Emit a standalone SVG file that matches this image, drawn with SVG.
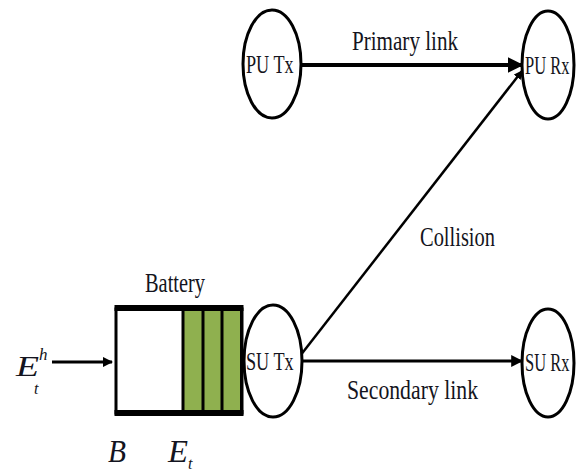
<svg xmlns="http://www.w3.org/2000/svg" width="576" height="471" viewBox="0 0 576 471">
<style>
.node{fill:#fff;stroke:#000;stroke-width:3}
.t{font-family:"Liberation Serif","Times New Roman",serif;fill:#141420}
.lbl{font-size:27px}
.nl{font-size:17px}
.m{font-style:italic}
.ln{stroke:#000;fill:none}
</style>
<defs>
<marker id="ah" viewBox="0 0 10 10" refX="9" refY="5" markerWidth="4" markerHeight="4" markerUnits="strokeWidth" orient="auto">
<path d="M0,0 L10,5 L0,10 z" fill="#000"/>
</marker>
<marker id="ah2" viewBox="0 0 10 10" refX="9" refY="5" markerWidth="3.5" markerHeight="3.5" markerUnits="strokeWidth" orient="auto">
<path d="M0,0 L10,5 L0,10 z" fill="#000"/>
</marker>
</defs>
<rect width="576" height="471" fill="#fff"/>
<g id="connectors">
<line class="ln" x1="301" y1="65" x2="522" y2="65" stroke-width="4" marker-end="url(#ah)"/>
<line class="ln" x1="301" y1="361" x2="522" y2="361" stroke-width="3" marker-end="url(#ah)"/>
<line class="ln" x1="300" y1="356" x2="522" y2="71" stroke-width="2.5" marker-end="url(#ah2)"/>
<line class="ln" x1="52" y1="362" x2="112" y2="362" stroke-width="3" marker-end="url(#ah2)"/>
</g>
<g id="battery">
<rect x="116" y="309" width="126" height="104" fill="#fff" stroke="#000" stroke-width="3"/>
<rect x="183" y="309" width="59" height="104" fill="#8fb04f"/>
<line class="ln" x1="114.5" y1="308" x2="243.5" y2="308" stroke-width="6"/>
<line class="ln" x1="114.5" y1="413" x2="243.5" y2="413" stroke-width="6"/>
<line class="ln" x1="183" y1="308" x2="183" y2="413" stroke-width="3"/>
<line class="ln" x1="203" y1="308" x2="203" y2="413" stroke-width="3"/>
<line class="ln" x1="222" y1="308" x2="222" y2="413" stroke-width="3"/>
<line class="ln" x1="241.5" y1="308" x2="241.5" y2="413" stroke-width="3"/>
<text class="t lbl" x="145" y="292" textLength="60" lengthAdjust="spacingAndGlyphs">Battery</text>
</g>
<g id="PUTx">
<ellipse class="node" cx="272" cy="64" rx="29" ry="54"/>
<text class="t nl" transform="translate(246,73) scale(1.07,1.45)">PU Tx</text>
</g>
<g id="PURx">
<ellipse class="node" cx="548" cy="65" rx="26" ry="54"/>
<text class="t nl" transform="translate(525,74) scale(0.97,1.45)">PU Rx</text>
</g>
<g id="SUTx">
<ellipse class="node" cx="273" cy="361" rx="29" ry="56"/>
<text class="t nl" transform="translate(246,370) scale(1.07,1.45)">SU Tx</text>
</g>
<g id="SURx">
<ellipse class="node" cx="548" cy="363" rx="26" ry="54"/>
<text class="t nl" transform="translate(525,371) scale(0.97,1.45)">SU Rx</text>
</g>
<g id="labels">
<text class="t lbl" x="352" y="50" textLength="106" lengthAdjust="spacingAndGlyphs">Primary link</text>
<text class="t lbl" x="420" y="246" textLength="75" lengthAdjust="spacingAndGlyphs">Collision</text>
<text class="t lbl" x="347" y="399" textLength="131" lengthAdjust="spacingAndGlyphs">Secondary link</text>
<text class="t m" x="16" y="376" font-size="29" textLength="23" lengthAdjust="spacingAndGlyphs">E</text>
<text class="t m" x="39" y="360" font-size="17">h</text>
<text class="t m" x="34" y="394" font-size="16">t</text>
<text class="t m" x="108" y="462" font-size="31" textLength="18" lengthAdjust="spacingAndGlyphs">B</text>
<text class="t m" x="168" y="462" font-size="31" textLength="20" lengthAdjust="spacingAndGlyphs">E</text>
<text class="t m" x="188" y="469" font-size="16">t</text>
</g>
</svg>
